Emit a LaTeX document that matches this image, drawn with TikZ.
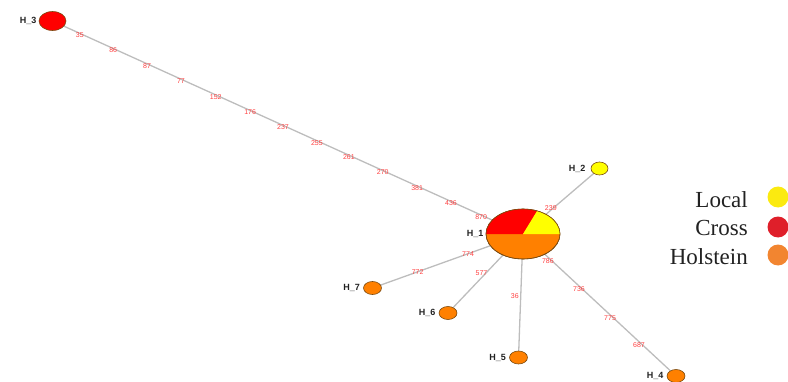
\documentclass[tikz,border=0pt]{standalone}
\usepackage{fontspec}
\setmainfont{Liberation Serif}
\newfontfamily\labfont{Liberation Sans}
\usetikzlibrary{shapes.geometric,backgrounds}
\definecolor{hred}{HTML}{FF0000}
\definecolor{hyellow}{HTML}{FFFF00}
\definecolor{horange}{HTML}{FF8000}
\definecolor{hborder}{HTML}{7A4A10}
\definecolor{edgegray}{HTML}{BDBDBD}
\definecolor{elabred}{HTML}{FF4040}
\definecolor{lgyellow}{HTML}{FBEA10}
\definecolor{lgred}{HTML}{DF1F2A}
\definecolor{lgorange}{HTML}{F28530}
\definecolor{txtdark}{HTML}{222222}
\tikzset{
  hap/.style={ellipse, draw=hborder, line width=0.6pt, inner sep=0pt},
  small/.style={hap, minimum width=18pt, minimum height=13pt, fill=horange},
  nlab/.style={font=\labfont\bfseries\fontsize{9}{10}\selectfont, text=txtdark, inner sep=1pt},
  edge/.style={draw=edgegray, line width=1.3pt},
  elab/.style={font=\labfont\fontsize{7}{8}\selectfont, text=elabred, inner sep=0pt},
  legtext/.style={font=\fontsize{23}{26}\selectfont, text=txtdark, anchor=base east, inner sep=0pt},
  legdot/.style={circle, minimum size=21pt, inner sep=0pt}
}
\begin{document}
\begin{tikzpicture}[x=1pt,y=1pt]
\useasboundingbox (0,0) rectangle (788,381);
% haplotype nodes
\node[hap, minimum width=27pt, minimum height=19pt, fill=hred,
      label={[nlab,label distance=1pt]left:H\_3}] (h3) at (52.5,360) {};
\node[hap, minimum width=74pt, minimum height=50pt, fill=horange,
      label={[nlab,label distance=1pt]left:H\_1}] (h1) at (523,147) {};
\node[hap, minimum width=17pt, minimum height=13pt, fill=hyellow,
      label={[nlab,label distance=4pt]left:H\_2}] (h2) at (599.5,212.5) {};
\node[small, label={[nlab,label distance=2pt]left:H\_7}] (h7) at (372.5,93) {};
\node[small, label={[nlab,label distance=2pt]left:H\_6}] (h6) at (448,68) {};
\node[small, label={[nlab,label distance=2pt]left:H\_5}] (h5) at (518.5,23.5) {};
\node[small, label={[nlab,label distance=2pt]left:H\_4}] (h4) at (676,5) {};
% pie sectors of H_1
\fill[hred] (h1.center) -- ++(67.5:37pt and 25pt)
  arc[start angle=67.5, end angle=180, x radius=37pt, y radius=25pt] -- cycle;
\fill[hyellow] (h1.center) -- ++(0:37pt)
  arc[start angle=0, end angle=67.5, x radius=37pt, y radius=25pt] -- cycle;
\draw[draw=hborder, line width=0.6pt] (h1.center) ellipse[x radius=37pt, y radius=25pt];
% connectors
\begin{scope}[on background layer]
\draw[edge] (h3.center) --
  node[elab,pos=0.058,yshift=-2pt]{35}
  node[elab,pos=0.129,yshift=-2pt]{86}
  node[elab,pos=0.201,yshift=-2pt]{87}
  node[elab,pos=0.273,yshift=-2pt]{77}
  node[elab,pos=0.347,yshift=-2pt]{152}
  node[elab,pos=0.420,yshift=-2pt]{176}
  node[elab,pos=0.490,yshift=-2pt]{237}
  node[elab,pos=0.562,yshift=-2pt]{255}
  node[elab,pos=0.630,yshift=-2pt]{261}
  node[elab,pos=0.702,yshift=-2pt]{270}
  node[elab,pos=0.775,yshift=-2pt]{381}
  node[elab,pos=0.847,yshift=-2pt]{436}
  node[elab,pos=0.911,yshift=-2pt]{870}
  (h1.center);
\draw[edge] (h1.center) -- node[elab,pos=0.39,xshift=-2pt]{239} (h2.center);
\draw[edge] (h1.center) --
  node[elab,pos=0.365]{774}
  node[elab,pos=0.70]{772} (h7.center);
\draw[edge] (h1.center) -- node[elab,pos=0.5,xshift=-4pt]{577} (h6.center);
\draw[edge] (h1.center) -- node[elab,pos=0.5,xshift=-6pt]{36} (h5.center);
\draw[edge] (h1.center) --
  node[elab,pos=0.163,yshift=-4pt]{786}
  node[elab,pos=0.366,yshift=-3pt]{736}
  node[elab,pos=0.569,yshift=-3pt]{775}
  node[elab,pos=0.758,yshift=-3pt]{687} (h4.center);
\end{scope}
% legend
\node[legdot, fill=lgyellow] (dlocal) at (778,184) {};
\node[legdot, fill=lgred] (dcross) at (778,154) {};
\node[legdot, fill=lgorange] (dhol) at (778,126) {};
\node[legtext] (tlocal) at (748,173.5) {Local};
\node[legtext] (tcross) at (748,145.5) {Cross};
\node[legtext] (thol) at (748,116.5) {Holstein};
\end{tikzpicture}
\end{document}
